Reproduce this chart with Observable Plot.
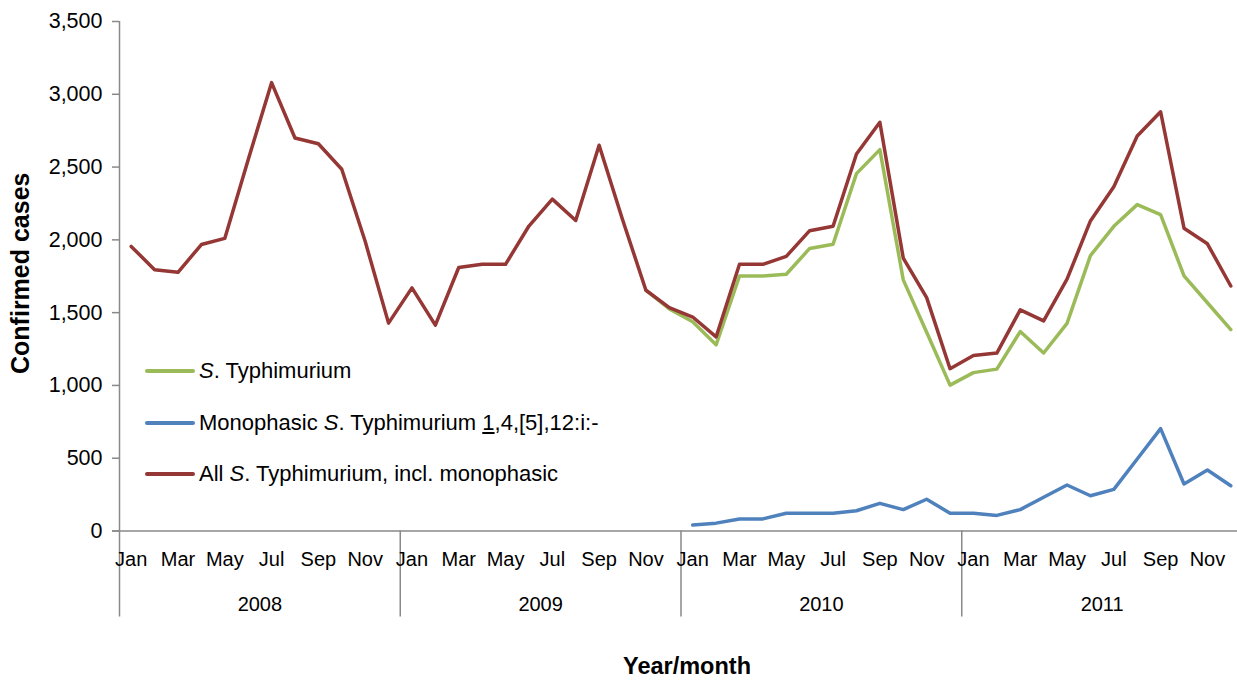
<!DOCTYPE html>
<html>
<head>
<meta charset="utf-8">
<script src="https://cdn.jsdelivr.net/npm/d3@7"></script>
<script src="https://cdn.jsdelivr.net/npm/@observablehq/plot@0.6"></script>
<style>
  html, body { margin: 0; padding: 0; background: #fff; }
  #wrap { position: relative; width: 1237px; height: 680px; font-family: "Liberation Sans", Arial, sans-serif; }
  #legend { position: absolute; left: 145px; top: 0; font-size: 22px; color: #000; }
  #legend .row { position: absolute; left: 0; height: 30px; display: flex; align-items: center; white-space: nowrap; }
  #legend .sw { width: 50px; height: 4px; margin-right: 4px; border-radius: 2px; flex: none; }
</style>
</head>
<body>
<div id="wrap"></div>
<script>
// ---- Data ----
const monthNames = ["Jan","Feb","Mar","Apr","May","Jun","Jul","Aug","Sep","Oct","Nov","Dec"];
const years = [2008, 2009, 2010, 2011];

// All S. Typhimurium, incl. monophasic: Jan 2008 .. Dec 2011
const allSTm = [
  1955, 1795, 1777, 1968, 2010, 2550, 3080, 2700, 2660, 2485, 1990, 1428,
  1670, 1414, 1810, 1832, 1832, 2095, 2280, 2133, 2650, 2140, 1654, 1535,
  1470, 1333, 1832, 1832, 1887, 2063, 2093, 2590, 2808, 1875, 1603, 1115,
  1205, 1222, 1519, 1443, 1730, 2130, 2365, 2713, 2880, 2080, 1973, 1683
];

// S. Typhimurium: Nov 2009 .. Dec 2011
const stmStart = 22;
const stm = [
  1654, 1525,
  1438, 1279, 1752, 1752, 1764, 1941, 1970, 2455, 2620, 1725, 1365, 1002,
  1088, 1112, 1370, 1223, 1426, 1892, 2093, 2242, 2174, 1752, 1568, 1384
];

// Monophasic S. Typhimurium 1,4,[5],12:i:- : Jan 2010 .. Dec 2011
const monoStart = 24;
const mono = [
  41, 54, 83, 83, 122, 122, 122, 139, 190, 147, 218, 122,
  122, 107, 147, 232, 316, 242, 286, 495, 703, 323, 419, 311
];

const yTicks = [0, 500, 1000, 1500, 2000, 2500, 3000, 3500];

// ---- Derived tables ----
const rowsAll = allSTm.map((v, i) => ({i, v}));
const rowsStm = stm.map((v, k) => ({i: k + stmStart, v}));
const rowsMono = mono.map((v, k) => ({i: k + monoStart, v}));
const nMonths = years.length * 12;
const oddMonthIdx = d3.range(0, nMonths, 2);
const yearBounds = d3.range(0, years.length + 1).map(k => k * 12 - 0.5);
const yearMids = years.map((y, k) => k * 12 + 5.5);

const colors = {stm: "#9BBB59", mono: "#4F81BD", all: "#953735"};
const axisGray = "#898989";
const font = "Liberation Sans, Arial, sans-serif";

const chart = Plot.plot({
  width: 1237,
  height: 680,
  marginLeft: 119,
  marginRight: -5,
  marginTop: 21,
  marginBottom: 149.5,
  style: {fontFamily: font, fontSize: "20px", color: "#000", background: "#fff"},
  x: {type: "linear", domain: [-0.5, nMonths - 0.5], range: [119, 1242], axis: null},
  y: {domain: [0, 3500], axis: null},
  marks: [
    // y axis line and ticks
    Plot.ruleX([-0.5], {stroke: axisGray, strokeWidth: 1.5}),
    Plot.axisY(yTicks, {
      tickSize: 7, tickPadding: 10, stroke: axisGray, strokeWidth: 1.5,
      tickFormat: d3.format(","), fontSize: 21.5, label: null
    }),
    // x axis line
    Plot.ruleY([0], {stroke: axisGray, strokeWidth: 1.5, insetLeft: -7}),
    // year separators
    Plot.axisX(yearBounds, {tickSize: 86, tickFormat: () => "", stroke: axisGray, strokeWidth: 1.5, label: null}),
    // month labels
    Plot.axisX(oddMonthIdx, {tickSize: 0, tickPadding: 21, tickFormat: i => monthNames[i % 12], fontSize: 20, label: null}),
    // year labels
    Plot.axisX(yearMids, {tickSize: 0, tickPadding: 66, tickFormat: x => String(years[Math.floor(x / 12)]), fontSize: 20, label: null}),
    // series
    Plot.lineY(rowsStm, {x: "i", y: "v", stroke: colors.stm, strokeWidth: 3.5}),
    Plot.lineY(rowsMono, {x: "i", y: "v", stroke: colors.mono, strokeWidth: 3.5}),
    Plot.lineY(rowsAll, {x: "i", y: "v", stroke: colors.all, strokeWidth: 3.5}),
    // axis titles
    Plot.text(["Confirmed cases"], {frameAnchor: "left", textAnchor: "middle", lineAnchor: "middle", rotate: -90, dx: -99, dy: -3, fontWeight: "bold", fontSize: 25}),
    Plot.text(["Year/month"], {frameAnchor: "bottom", textAnchor: "middle", lineAnchor: "middle", dy: 135.5, dx: 6, fontWeight: "bold", fontSize: 23.5})
  ]
});

const wrap = document.getElementById("wrap");
wrap.appendChild(chart);

// legend (inside the plot area)
const legendRows = [
  {color: colors.stm, html: "<i>S</i>. Typhimurium", y: 371},
  {color: colors.mono, html: "Monophasic <i>S</i>. Typhimurium <u>1</u>,4,[5],12:i:-", y: 423},
  {color: colors.all, html: "All <i>S</i>. Typhimurium, incl. monophasic", y: 474}
];
const legend = document.createElement("div");
legend.id = "legend";
legend.innerHTML = legendRows.map(r =>
  `<div class="row" style="top:${r.y - 15}px"><span class="sw" style="background:${r.color}"></span><span>${r.html}</span></div>`
).join("");
wrap.appendChild(legend);
</script>
</body>
</html>
